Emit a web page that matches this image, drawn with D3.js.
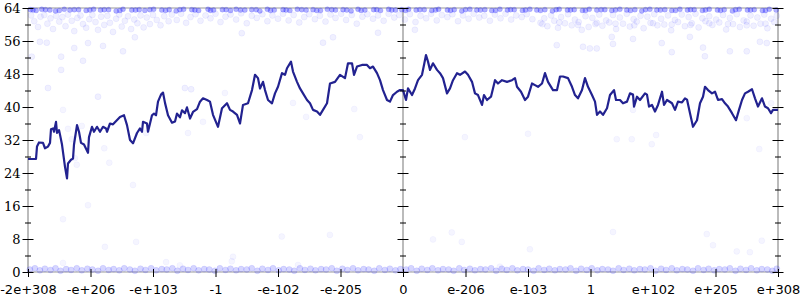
<!DOCTYPE html>
<html>
<head>
<meta charset="utf-8">
<script src="https://cdn.jsdelivr.net/npm/d3@7"></script>
<style>
  body { margin: 0; background: #fff; }
  svg { display: block; }
</style>
</head>
<body>
<div id="chart"></div>
<script>
// x positions are in axis units: 0 .. 12, one unit per labelled tick
var xTickLabels = ["-2e+308", "-e+206", "-e+103", "-1", "-e-102", "-e-205", "0",
                   "e-206", "e-103", "1", "e+102", "e+205", "e+308"];
var yMajor = [0, 8, 16, 24, 32, 40, 48, 56, 64];
var yMinor = [4, 12, 20, 28, 36, 44, 52, 60];

// the dark line
var lineT = [0, 0.128, 0.144, 0.176, 0.24, 0.272, 0.32, 0.352, 0.368, 0.4, 0.416, 0.448, 0.464, 0.496, 0.512,
  0.544, 0.592, 0.624, 0.64, 0.688, 0.72, 0.736, 0.784, 0.816, 0.848, 0.896, 0.96, 0.976, 1.024, 1.056,
  1.104, 1.152, 1.2, 1.248, 1.264, 1.312, 1.36, 1.472, 1.536, 1.584, 1.632, 1.68, 1.744, 1.792, 1.824,
  1.84, 1.904, 1.92, 1.984, 2.016, 2.048, 2.08, 2.128, 2.16, 2.192, 2.24, 2.304, 2.352, 2.384, 2.432,
  2.464, 2.512, 2.544, 2.592, 2.64, 2.704, 2.752, 2.8, 2.864, 2.912, 2.96, 3.04, 3.104, 3.184, 3.232,
  3.28, 3.344, 3.392, 3.44, 3.52, 3.584, 3.632, 3.68, 3.712, 3.76, 3.792, 3.84, 3.904, 3.952, 4.0,
  4.064, 4.112, 4.144, 4.208, 4.24, 4.304, 4.352, 4.4, 4.464, 4.512, 4.56, 4.624, 4.672, 4.72, 4.784,
  4.832, 4.912, 4.992, 5.072, 5.12, 5.184, 5.216, 5.264, 5.344, 5.424, 5.472, 5.52, 5.584, 5.632, 5.68,
  5.744, 5.792, 5.84, 5.904, 5.952, 6.0, 6.048, 6.08, 6.144, 6.192, 6.24, 6.304, 6.336, 6.368, 6.4,
  6.432, 6.48, 6.544, 6.592, 6.64, 6.704, 6.752, 6.8, 6.864, 6.912, 6.992, 7.04, 7.104, 7.152, 7.2,
  7.264, 7.296, 7.344, 7.408, 7.472, 7.52, 7.584, 7.664, 7.744, 7.792, 7.824, 7.888, 7.952, 8.0, 8.064,
  8.112, 8.16, 8.224, 8.272, 8.32, 8.4, 8.464, 8.512, 8.56, 8.64, 8.704, 8.752, 8.8, 8.864, 8.912,
  8.96, 9.024, 9.072, 9.104, 9.152, 9.2, 9.264, 9.312, 9.376, 9.408, 9.472, 9.52, 9.584, 9.632, 9.68,
  9.696, 9.744, 9.792, 9.872, 9.904, 9.936, 9.984, 10.032, 10.08, 10.144, 10.176, 10.224, 10.304, 10.352, 10.4,
  10.464, 10.512, 10.544, 10.592, 10.64, 10.704, 10.752, 10.8, 10.832, 10.88, 10.944, 10.992, 11.04, 11.104, 11.152,
  11.2, 11.264, 11.328, 11.376, 11.424, 11.472, 11.52, 11.584, 11.632, 11.68, 11.744, 11.792, 11.84, 11.888, 11.92, 12];
var lineV = [27.4, 27.4, 30.4, 31.4, 31.3, 30, 30.4, 31.3, 34.6, 34.8, 34, 36.4, 33.7, 34.4, 33.3,
  30.9, 25.5, 22.7, 26.3, 27.2, 27.5, 30.9, 35.6, 34, 31.3, 30.9, 28.9, 32.7, 35.2, 34,
  35.2, 34, 35.2, 34.8, 34, 36, 35.8, 37.6, 38, 35.6, 32, 31.2, 33.7, 34.8, 34,
  36.4, 36, 34, 38, 38.4, 38, 41.3, 43, 43.5, 41, 38, 36.2, 36.5, 38.4, 37.5,
  39.2, 38.5, 39.9, 37.2, 38.8, 39.5, 41.3, 42.1, 41.7, 41.3, 38.1, 35.2, 39.7, 40.9, 39.3,
  38.9, 38.1, 36, 40.5, 40.9, 44.1, 47.8, 47, 44.5, 46.1, 44.1, 41.7, 40.9, 43.3, 44.9,
  48.2, 47.8, 49.4, 51, 48.6, 46.1, 44.5, 43.3, 41.7, 40.9, 39.3, 38.9, 38.1, 39.3, 40.9,
  45.7, 46.1, 47.8, 47, 50.6, 50.6, 47.8, 49.8, 50.2, 50.2, 49.4, 49.8, 48.2, 46.5, 44.1,
  41.7, 41.3, 42.9, 43.7, 44.1, 44.1, 41.7, 44.5, 42.9, 44.5, 46.5, 47.8, 50.2, 52.6, 51,
  49, 50.6, 49, 48.2, 47, 43.3, 44.5, 46.5, 48.2, 47.8, 48.6, 47.8, 46.1, 43.3, 42.9,
  40.5, 42.9, 41.7, 42.5, 46.5, 45.7, 46.5, 46.1, 46.5, 47, 44.9, 43.7, 41.7, 42.5, 45.7,
  45.3, 44.9, 45.7, 48.2, 46.1, 44.1, 44.1, 47.4, 47.4, 47, 44.9, 42.9, 42.1, 44.1, 47,
  44.9, 42.9, 41.3, 38.1, 38.9, 38.1, 39.7, 42.9, 44.1, 41.7, 41.7, 40.9, 41.3, 43.3, 43,
  40.1, 42.5, 41.7, 43.3, 43, 40.1, 40.5, 38.9, 40.5, 43.7, 40.5, 41.7, 40.9, 39.3, 41.3,
  41.1, 42.1, 41.8, 38.5, 35.2, 36.8, 40.9, 42.5, 44.9, 44.1, 43.3, 43.7, 41.7, 41.9, 40.9,
  40.1, 38.5, 36.8, 39.3, 41.7, 43.3, 43.7, 44.3, 42.1, 40.1, 42.1, 40.1, 39.7, 38.5, 39.3, 39.3];

// faint dots, [t, value]
var topRow = [[0.04,63.6],[0.13,63.4],[0.22,63.7],[0.35,63.5],[0.44,63.3],[0.58,63.7],[0.67,63.5],[0.81,63.6],[0.93,63.4],[1.05,63.7],
  [1.16,63.5],[1.29,63.6],[1.41,63.3],[1.52,63.7],[1.66,63.5],[1.78,63.6],[1.87,63.4],[2.01,63.7],[2.14,63.5],[2.26,63.6],
  [2.37,63.3],[2.49,63.7],[2.62,63.6],[2.73,63.4],[2.88,63.7],[2.97,63.5],[3.11,63.6],[3.24,63.4],[3.33,63.7],[3.47,63.5],
  [3.58,63.6],[3.71,63.3],[3.83,63.7],[3.94,63.5],[4.08,63.6],[4.19,63.4],[4.31,63.7],[4.45,63.5],[4.56,63.6],[4.68,63.4],
  [4.79,63.7],[4.92,63.5],[5.04,63.6],[5.17,63.3],[5.28,63.7],[5.39,63.5],[5.53,63.6],[5.64,63.4],[5.77,63.7],[5.88,63.5],
  [5.98,63.6],[6.09,63.7],[6.21,63.5],[6.34,63.6],[6.46,63.4],[6.57,63.7],[6.71,63.5],[6.82,63.6],[6.94,63.3],[7.07,63.7],
  [7.18,63.5],[7.31,63.6],[7.42,63.4],[7.55,63.7],[7.67,63.5],[7.78,63.6],[7.91,63.4],[8.03,63.7],[8.14,63.5],[8.27,63.6],
  [8.39,63.3],[8.5,63.7],[8.63,63.5],[8.74,63.6],[8.87,63.4],[8.98,63.7],[9.1,63.5],[9.23,63.6],[9.34,63.4],[9.47,63.7],
  [9.58,63.5],[9.71,63.6],[9.82,63.3],[9.95,63.7],[10.06,63.5],[10.19,63.6],[10.3,63.4],[10.43,63.7],[10.55,63.5],[10.66,63.6],
  [10.79,63.4],[10.9,63.7],[11.03,63.5],[11.14,63.6],[11.27,63.3],[11.38,63.7],[11.51,63.5],[11.62,63.6],[11.75,63.4],[11.86,63.7],[11.97,63.5]];
var topRowB = [[0.08,63.5],[0.28,63.6],[0.5,63.4],[0.74,63.6],[0.99,63.5],[1.22,63.6],[1.47,63.4],[1.72,63.5],[1.95,63.6],[2.2,63.4],
  [2.43,63.6],[2.67,63.5],[2.92,63.4],[3.17,63.6],[3.4,63.5],[3.65,63.6],[3.88,63.4],[4.13,63.5],[4.38,63.6],[4.62,63.4],
  [4.86,63.6],[5.1,63.5],[5.33,63.4],[5.58,63.6],[5.82,63.5],[6.04,63.4],[6.27,63.6],[6.52,63.5],[6.76,63.4],[7.0,63.6],
  [7.24,63.5],[7.48,63.4],[7.72,63.6],[7.96,63.5],[8.2,63.4],[8.45,63.6],[8.68,63.5],[8.92,63.4],[9.17,63.6],[9.4,63.5],
  [9.64,63.4],[9.88,63.6],[10.12,63.5],[10.36,63.4],[10.6,63.6],[10.84,63.5],[11.08,63.4],[11.32,63.6],[11.56,63.5],[11.8,63.4]];
var upperLeft = [[0.05,62.2],[0.1,60.8],[0.16,59.4],[0.2,61.9],[0.26,62.3],[0.31,60.2],[0.36,61.5],[0.4,58.9],[0.45,62.1],[0.5,60.7],
  [0.55,61.8],[0.6,59.6],[0.64,62.4],[0.7,60.9],[0.74,58.4],[0.79,61.6],[0.84,62.2],[0.88,60.1],[0.93,59.2],[0.98,61.3],
  [1.03,62.3],[1.08,60.6],[1.12,58.7],[1.17,61.9],[1.22,59.9],[1.27,62.1],[1.31,60.4],[1.36,58.2],[1.41,61.4],[1.46,62.4],
  [1.5,59.5],[1.55,60.9],[1.6,62],[1.65,58.9],[1.7,61.2],[1.75,60.3],[1.8,62.2],[1.85,59.3],[1.9,61.7],[1.95,60.1],
  [2.0,62.3],[2.06,61.1],[2.12,59.8],[2.18,62],[2.25,60.8],
  [0.19,55.8],[0.3,55.6],[0.96,55.5],[1.2,54.8],[1.52,53.5],[1.71,56.9],[0.06,52.2],[0.53,52.2],[0.74,54.3],[0.88,51.2],
  [0.53,49],[0.32,44.6],[1.12,42.5],[2.51,44.6],[2.61,44.3]];
var upperMiddle = [[2.3,62.4],[2.38,61.1],[2.45,62.6],[2.53,60.4],[2.6,61.8],[2.68,62.5],[2.76,60.9],[2.84,62.2],[2.92,61.5],[3.0,62.6],
  [3.08,60.6],[3.16,61.9],[3.24,62.4],[3.33,61.2],[3.41,62.7],[3.5,60.3],[3.58,62.1],[3.66,61.6],[3.75,62.5],[3.83,60.8],
  [3.91,62.2],[4.0,61.4],[4.08,62.6],[4.17,61],[4.25,62.3],[4.34,60.5],[4.42,61.8],[4.5,62.5],[4.59,61.3],[4.67,62.1],
  [4.76,60.7],[4.84,62.4],[4.92,61.6],[5.01,62.6],[5.09,61.1],[5.18,62.3],[5.26,60.2],[5.35,61.9],[5.43,62.5],[5.52,61.4],
  [5.6,62.2],[5.69,60.9],[5.77,62.6],[5.86,61.7],[5.94,62.3],[6.03,61.2],[6.11,62.5],[6.2,60.6],[6.28,62.1],[6.37,61.5],
  [6.45,62.6],[6.54,61],[6.62,62.3],[6.71,61.8],[6.79,62.5],[6.88,60.8],[6.96,62.2],[7.05,61.4],[7.13,62.6],[7.22,61.7],
  [7.3,62.1],[7.39,60.9],[7.47,62.4],[7.56,61.5],[7.64,62.6],[7.73,61.2],[7.81,62.2],[7.9,61.8],[7.98,62.5],[8.07,61.3],
  [3.42,57.9],[4.72,55.6],[4.88,56.9],[5.6,58],[6.19,58.7],[8.99,54.2],[8.46,55],[8.88,54.6],[9.1,54.2]];
var upperRight = [[8.2,60.4],[8.26,61.5],[8.31,59.6],[8.37,62.2],[8.42,60.9],[8.48,59.2],[8.53,61.8],[8.59,60.3],[8.64,62.5],[8.7,59.8],
  [8.75,61.2],[8.81,60.6],[8.86,58.7],[8.92,62],[8.97,59.4],[9.03,61.6],[9.08,60.1],[9.14,62.4],[9.19,59.7],[9.25,61],
  [9.3,60.5],[9.36,62.3],[9.41,58.9],[9.47,61.7],[9.52,60.2],[9.58,62.6],[9.63,59.5],[9.69,61.3],[9.74,60.7],[9.8,62.1],
  [9.85,59.1],[9.91,61.9],[9.96,60.4],[10.02,62.5],[10.07,59.8],[10.13,61.4],[10.18,60],[10.24,62.2],[10.29,58.6],[10.35,61.1],
  [10.4,60.6],[10.46,62.4],[10.51,59.6],[10.57,61.8],[10.62,60.3],[10.68,62.6],[10.73,59.3],[10.79,61.5],[10.84,60.8],[10.9,62],
  [10.95,59.9],[11.01,61.2],[11.06,60.5],[11.12,62.3],[11.17,58.8],[11.23,61.6],[11.28,60.1],[11.34,62.5],[11.39,59.4],[11.45,61],
  [11.5,60.7],[11.56,62.2],[11.61,59.7],[11.67,61.7],[11.72,60.2],[11.78,62.4],[11.83,59.1],[11.89,61.4],[11.94,60.6],[11.98,62.1],
  [8.23,60.1],[8.5,60.5],[8.8,59.9],[9.1,60.4],[9.4,60.2],[9.7,59.8],[10.0,60.3],[10.3,60],[10.6,59.9],[10.9,60.3],
  [11.2,60.1],[11.5,59.8],[11.8,60.2],
  [9.36,55.3],[9.68,56.5],[10.14,55.5],[10.3,53.3],[10.59,57],[10.8,54.4],[10.83,52.3],[11.23,53.5],[11.5,53.5],[11.71,55.8],
  [11.82,55.5],[9.34,57]];
var bottomRow = [[0.03,0.6],[0.11,0.9],[0.19,0.4],[0.27,0.8],[0.36,0.5],[0.44,0.9],[0.52,0.3],[0.61,0.7],[0.69,0.5],[0.78,0.9],
  [0.86,0.4],[0.95,0.8],[1.03,0.6],[1.12,0.3],[1.2,0.9],[1.29,0.5],[1.37,0.7],[1.46,0.4],[1.54,0.9],[1.63,0.6],
  [1.71,0.3],[1.8,0.8],[1.88,0.5],[1.97,0.9],[2.05,0.4],[2.14,0.7],[2.22,0.6],[2.31,0.9],[2.39,0.3],[2.48,0.8],
  [2.56,0.5],[2.65,0.9],[2.73,0.4],[2.82,0.7],[2.9,0.6],[2.99,0.3],[3.07,0.9],[3.16,0.5],[3.24,0.8],[3.33,0.4],
  [3.41,0.7],[3.5,0.6],[3.58,0.9],[3.67,0.3],[3.75,0.8],[3.84,0.5],[3.92,0.9],[4.01,0.4],[4.09,0.7],[4.18,0.6],
  [4.26,0.3],[4.35,0.9],[4.43,0.5],[4.52,0.8],[4.6,0.4],[4.69,0.7],[4.77,0.6],[4.86,0.9],[4.94,0.3],[5.03,0.8],
  [5.11,0.5],[5.2,0.9],[5.28,0.4],[5.37,0.7],[5.45,0.6],[5.54,0.3],[5.62,0.9],[5.71,0.5],[5.79,0.8],[5.88,0.4],
  [5.96,0.7],[6.05,0.6],[6.13,0.9],[6.22,0.3],[6.3,0.8],[6.39,0.5],[6.47,0.9],[6.56,0.4],[6.64,0.7],[6.73,0.6],
  [6.81,0.3],[6.9,0.9],[6.98,0.5],[7.07,0.8],[7.15,0.4],[7.24,0.7],[7.32,0.6],[7.41,0.9],[7.49,0.3],[7.58,0.8],
  [7.66,0.5],[7.75,0.9],[7.83,0.4],[7.92,0.7],[8.0,0.6],[8.09,0.3],[8.17,0.9],[8.26,0.5],[8.34,0.8],[8.43,0.4],
  [8.51,0.7],[8.6,0.6],[8.68,0.9],[8.77,0.3],[8.85,0.8],[8.94,0.5],[9.02,0.9],[9.11,0.4],[9.19,0.7],[9.28,0.6],
  [9.36,0.3],[9.45,0.9],[9.53,0.5],[9.62,0.8],[9.7,0.4],[9.79,0.7],[9.87,0.6],[9.96,0.9],[10.04,0.3],[10.13,0.8],
  [10.21,0.5],[10.3,0.9],[10.38,0.4],[10.47,0.7],[10.55,0.6],[10.64,0.3],[10.72,0.9],[10.81,0.5],[10.89,0.8],[10.98,0.4],
  [11.06,0.7],[11.15,0.6],[11.23,0.9],[11.32,0.3],[11.4,0.8],[11.49,0.5],[11.57,0.9],[11.66,0.4],[11.74,0.7],[11.83,0.6],[11.91,0.3],[11.98,0.8]];
var strayDots = [[0.56,2.2],[1.23,6.1],[1.73,7.3],[2.21,2.4],[2.43,1.6],[3.28,3.7],[3.26,2.6],[4.06,8.6],[4.83,9],[4.32,1.7],
  [6.48,7.9],[6.78,9.6],[6.94,7.3],[8.03,5.5],[7.55,1.3],[9.36,9.7],[10.86,9.2],[10.96,6.5],[11.34,5],[11.55,4.8],[11.74,7.6],
  [0.56,39.3],[0.64,34.7],[0.7,32.2],[0.86,35.4],[0.75,27.6],[0.78,26],[1.22,30],[1.3,26.5],[1.68,21.1],[0.96,16.2],
  [0.56,12.8],[1.89,33.7],[2.56,33.7],[3.15,43.4],[2.8,36.4],[4.24,41],[4.45,37.6],[5.22,39.5],[5.31,32.7],[6.99,32.7],
  [8.0,33.5],[9.42,32.2],[9.66,32.2],[9.98,31],[10.05,33.2],[11.5,37.3],[11.7,29.8],[11.89,40.9],[9.68,39.3]];

var width = 800, height = 300;
var margin = { top: 8, right: 22, bottom: 28, left: 28 };

var svg = d3.select("#chart")
    .append("svg")
    .attr("width", width)
    .attr("height", height);

var x = d3.scaleLinear()
    .domain([0, 12])
    .range([margin.left, width - margin.right]);
var y = d3.scaleLinear()
    .domain([0, 64])
    .range([height - margin.bottom, margin.top]);

// frame: gray lines at the sides, the middle and top/bottom
var frame = svg.append("g")
    .attr("stroke", "#bbb")
    .attr("stroke-width", 2);
[0, 6, 12].forEach(function (t) {
    frame.append("line")
        .attr("x1", x(t)).attr("x2", x(t))
        .attr("y1", y(0)).attr("y2", y(64));
});
[0, 64].forEach(function (v) {
    frame.append("line")
        .attr("x1", x(0)).attr("x2", x(12))
        .attr("y1", y(v)).attr("y2", y(v))
        .attr("stroke-width", 1.5);
});

// faint dots; the two edge rows are drawn a bit stronger since they are stacked
function dots(data, r, fillOp, strokeOp) {
    svg.append("g")
        .selectAll("circle")
        .data(data)
        .enter()
        .append("circle")
        .attr("cx", function (d) { return x(d[0]); })
        .attr("cy", function (d) { return y(d[1]); })
        .attr("r", r)
        .attr("fill", "#0000ff")
        .attr("fill-opacity", fillOp)
        .attr("stroke", "#0000ff")
        .attr("stroke-opacity", strokeOp);
}
dots([].concat(upperLeft, upperMiddle, upperRight), 3, 0.06, 0.05);
dots(strayDots, 3, 0.04, 0.03);
dots([].concat(topRow, topRowB), 2.5, 0.3, 0.12);
dots(bottomRow, 3, 0.16, 0.08);

// the line
var lineData = lineT.map(function (t, i) { return [t, lineV[i]]; });
svg.append("path")
    .datum(lineData)
    .attr("fill", "none")
    .attr("stroke", "#222290")
    .attr("stroke-width", 2.2)
    .attr("stroke-linejoin", "round")
    .attr("d", d3.line()
        .x(function (d) { return x(d[0]); })
        .y(function (d) { return y(d[1]); }));

// y axes: labels on the left, ticks on the three vertical lines
function tickAxis(cx, size, values, labels) {
    var ax = d3.axisLeft(y)
        .tickValues(values)
        .tickSize(size)
        .tickPadding(2)
        .tickFormat(labels ? d3.format("d") : "");
    var g = svg.append("g")
        .attr("transform", "translate(" + (cx + size / 2) + ",0)")
        .call(ax);
    g.select(".domain").remove();
    g.selectAll("line").attr("stroke", "#000");
    g.selectAll("text")
        .attr("font-family", "DejaVu Serif, serif")
        .attr("font-size", 13)
        .attr("fill", "#000");
    return g;
}
[0, 6, 12].forEach(function (t) {
    tickAxis(x(t), 11, yMajor, t === 0);
    tickAxis(x(t), 6, yMinor, false);
});

// x axis
var xAxis = svg.append("g")
    .attr("transform", "translate(0," + (y(0) - 3) + ")")
    .call(d3.axisBottom(x)
        .tickValues(d3.range(13))
        .tickSize(8)
        .tickPadding(8)
        .tickFormat(function (d) { return xTickLabels[d]; }));
xAxis.select(".domain").remove();
xAxis.selectAll("line").attr("stroke", "#000");
xAxis.selectAll("text")
    .attr("font-family", "DejaVu Sans, sans-serif")
    .attr("font-size", 13)
    .attr("fill", "#000");
</script>
</body>
</html>
